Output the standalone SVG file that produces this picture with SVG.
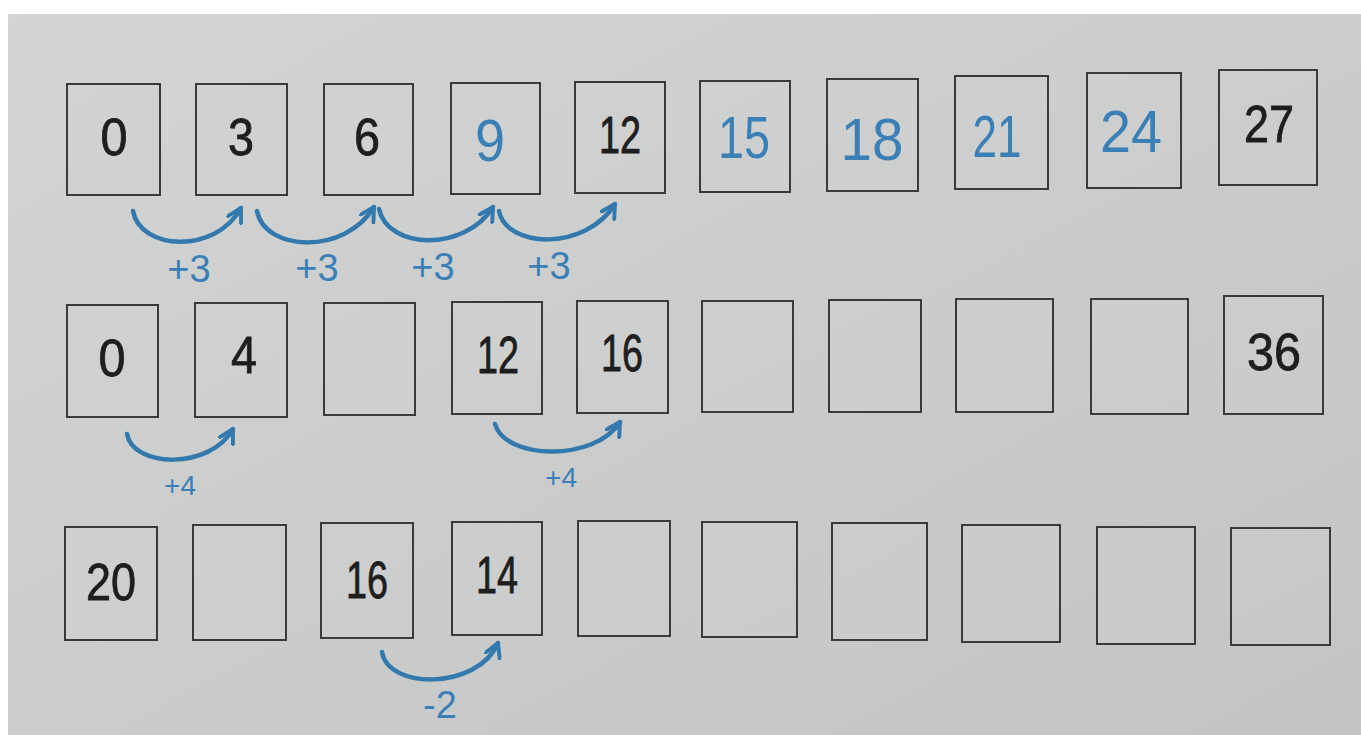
<svg xmlns="http://www.w3.org/2000/svg" width="1361" height="735" viewBox="0 0 1361 735">
  <defs>
    <linearGradient id="paper" x1="0" y1="0" x2="1" y2="1">
      <stop offset="0" stop-color="#d3d4d4"/>
      <stop offset="0.5" stop-color="#cbcdcd"/>
      <stop offset="1" stop-color="#c2c4c5"/>
    </linearGradient>
    <marker id="head" viewBox="0 0 12 12" refX="10" refY="6" markerWidth="18" markerHeight="18" markerUnits="userSpaceOnUse" orient="auto">
      <path d="M1,1 L10,6 L1,11" fill="none" stroke="#3479ad" stroke-width="2.6" stroke-linecap="round" stroke-linejoin="round"/>
    </marker>
    <style>
      .box { fill: #d0d1d1; fill-opacity: 0.35; stroke: #3a3a3a; stroke-width: 2; }
      .num { font-family: "Liberation Sans", Arial, sans-serif; font-size: 52px; fill: #1e1e1e; text-anchor: middle; stroke: #1e1e1e; stroke-width: 0.8; }
      .hand { font-family: "Liberation Sans", Arial, sans-serif; font-size: 60px; fill: #3a80b6; text-anchor: middle; }
      .lbl { font-family: "Liberation Sans", Arial, sans-serif; font-size: 38px; fill: #3a80b6; text-anchor: middle; }
      .lbl2 { font-family: "Liberation Sans", Arial, sans-serif; font-size: 28px; fill: #3a80b6; text-anchor: middle; }
      .arc { fill: none; stroke: #3479ad; stroke-width: 4.5; stroke-linecap: round; marker-end: url(#head); }
    </style>
  </defs>

  <rect x="0" y="0" width="1361" height="735" fill="#ffffff"/>
  <rect x="8" y="14" width="1353" height="721" fill="url(#paper)"/>

  <!-- Row 1 -->
  <g id="r1-0"><rect class="box" x="67" y="84" width="93" height="111"/><text class="num" x="114" y="155" textLength="27" lengthAdjust="spacingAndGlyphs">0</text></g>
  <g id="r1-1"><rect class="box" x="196" y="84" width="91" height="111"/><text class="num" x="241" y="155" textLength="26" lengthAdjust="spacingAndGlyphs">3</text></g>
  <g id="r1-2"><rect class="box" x="324" y="84" width="89" height="111"/><text class="num" x="367" y="155" textLength="26" lengthAdjust="spacingAndGlyphs">6</text></g>
  <g id="r1-3"><rect class="box" x="451" y="83" width="89" height="111"/><text class="hand" x="490" y="161" textLength="30" lengthAdjust="spacingAndGlyphs" font-size="72">9</text></g>
  <g id="r1-4"><rect class="box" x="575" y="82" width="90" height="111"/><text class="num" x="620" y="153" textLength="42" lengthAdjust="spacingAndGlyphs" font-size="55">12</text></g>
  <g id="r1-5"><rect class="box" x="700" y="81" width="90" height="111"/><text class="hand" x="744" y="158" textLength="52" lengthAdjust="spacingAndGlyphs">15</text></g>
  <g id="r1-6"><rect class="box" x="827" y="79" width="91" height="112"/><text class="hand" x="872" y="160" textLength="63" lengthAdjust="spacingAndGlyphs" font-size="64">18</text></g>
  <g id="r1-7"><rect class="box" x="955" y="76" width="93" height="113"/><text class="hand" x="997" y="157" textLength="49" lengthAdjust="spacingAndGlyphs" font-size="62">21</text></g>
  <g id="r1-8"><rect class="box" x="1087" y="73" width="94" height="115"/><text class="hand" x="1131" y="152" textLength="62" lengthAdjust="spacingAndGlyphs" font-size="57">24</text></g>
  <g id="r1-9"><rect class="box" x="1219" y="70" width="98" height="115"/><text class="num" x="1269" y="142" textLength="50" lengthAdjust="spacingAndGlyphs" font-size="55">27</text></g>

  <!-- Row 2 -->
  <g id="r2-0"><rect class="box" x="67" y="305" width="91" height="112"/><text class="num" x="112" y="376" textLength="27" lengthAdjust="spacingAndGlyphs">0</text></g>
  <g id="r2-1"><rect class="box" x="195" y="303" width="92" height="114"/><text class="num" x="244" y="373" textLength="26" lengthAdjust="spacingAndGlyphs">4</text></g>
  <g id="r2-2"><rect class="box" x="324" y="303" width="91" height="112"/></g>
  <g id="r2-3"><rect class="box" x="452" y="302" width="90" height="112"/><text class="num" x="498" y="373" textLength="42" lengthAdjust="spacingAndGlyphs" font-size="55">12</text></g>
  <g id="r2-4"><rect class="box" x="577" y="301" width="91" height="112"/><text class="num" x="622" y="371" textLength="42" lengthAdjust="spacingAndGlyphs" font-size="55">16</text></g>
  <g id="r2-5"><rect class="box" x="702" y="301" width="91" height="111"/></g>
  <g id="r2-6"><rect class="box" x="829" y="300" width="92" height="112"/></g>
  <g id="r2-7"><rect class="box" x="956" y="299" width="97" height="113"/></g>
  <g id="r2-8"><rect class="box" x="1091" y="299" width="97" height="115"/></g>
  <g id="r2-9"><rect class="box" x="1224" y="296" width="99" height="118"/><text class="num" x="1274" y="370" textLength="54" lengthAdjust="spacingAndGlyphs" font-size="55">36</text></g>

  <!-- Row 3 -->
  <g id="r3-0"><rect class="box" x="65" y="527" width="92" height="113"/><text class="num" x="111" y="600" textLength="50" lengthAdjust="spacingAndGlyphs" font-size="54">20</text></g>
  <g id="r3-1"><rect class="box" x="193" y="525" width="93" height="115"/></g>
  <g id="r3-2"><rect class="box" x="321" y="523" width="92" height="115"/><text class="num" x="367" y="598" textLength="42" lengthAdjust="spacingAndGlyphs" font-size="54">16</text></g>
  <g id="r3-3"><rect class="box" x="452" y="522" width="90" height="113"/><text class="num" x="497" y="593" textLength="42" lengthAdjust="spacingAndGlyphs" font-size="54">14</text></g>
  <g id="r3-4"><rect class="box" x="578" y="521" width="92" height="115"/></g>
  <g id="r3-5"><rect class="box" x="702" y="522" width="95" height="115"/></g>
  <g id="r3-6"><rect class="box" x="832" y="523" width="95" height="117"/></g>
  <g id="r3-7"><rect class="box" x="962" y="525" width="98" height="117"/></g>
  <g id="r3-8"><rect class="box" x="1097" y="527" width="98" height="117"/></g>
  <g id="r3-9"><rect class="box" x="1231" y="528" width="99" height="117"/></g>

  <!-- Connectors -->
  <g id="connectors">
    <path class="arc" d="M133,211 C140,250 215,255 241,208"/>
    <path class="arc" d="M257,211 C265,252 345,255 374,207"/>
    <path class="arc" d="M379,209 C388,250 465,252 493,207"/>
    <path class="arc" d="M499,211 C506,248 585,252 615,204"/>
    <path class="arc" d="M127,434 C133,468 210,470 233,429"/>
    <path class="arc" d="M495,424 C505,460 595,462 620,422"/>
    <path class="arc" d="M382,652 C388,690 478,690 498,643"/>
  </g>

  <!-- Connector labels -->
  <g id="labels">
    <text class="lbl" x="189" y="282">+3</text>
    <text class="lbl" x="317" y="281">+3</text>
    <text class="lbl" x="433" y="280">+3</text>
    <text class="lbl" x="549" y="279">+3</text>
    <text class="lbl2" x="180" y="495">+4</text>
    <text class="lbl2" x="561" y="487">+4</text>
    <text class="lbl" x="440" y="718">-2</text>
  </g>
</svg>
